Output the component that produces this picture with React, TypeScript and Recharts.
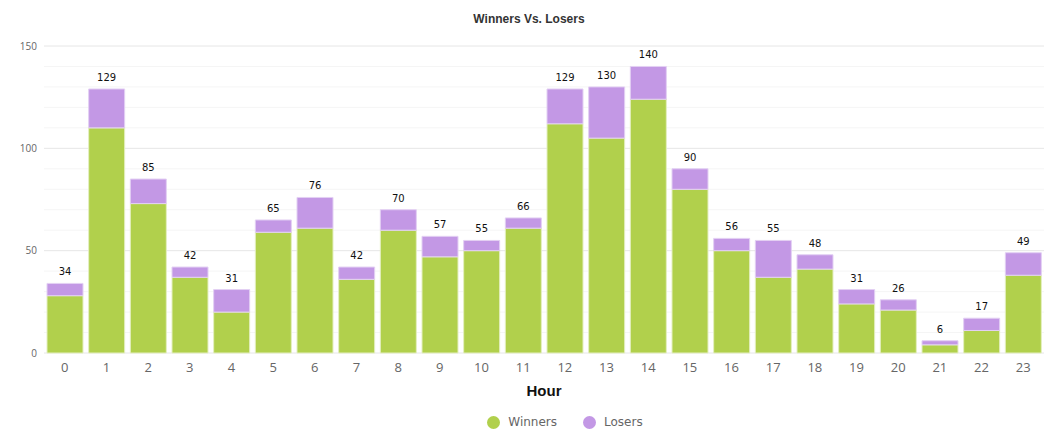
import React from "react"
import { BarChart, Bar, XAxis, YAxis, CartesianGrid, Legend, LabelList } from "recharts"

const hours = ["0", "1", "2", "3", "4", "5", "6", "7", "8", "9", "10", "11", "12", "13", "14", "15", "16", "17", "18", "19", "20", "21", "22", "23"]
const winners = [28, 110, 73, 37, 20, 59, 61, 36, 60, 47, 50, 61, 112, 105, 124, 80, 50, 37, 41, 24, 21, 4, 11, 38]
const losers = [6, 19, 12, 5, 11, 6, 15, 6, 10, 10, 5, 5, 17, 25, 16, 10, 6, 18, 7, 7, 5, 2, 6, 11]
const majorTicks = [0, 50, 100, 150]
const minorTicks = [10, 20, 30, 40, 60, 70, 80, 90, 110, 120, 130, 140]
const yMax = 150

const data = hours.map((h, i) => ({
  hour: h,
  winners: winners[i],
  losers: losers[i],
  total: winners[i] + losers[i],
}))

const renderLegend = () => (
  <div style={{ display: "flex", justifyContent: "center", gap: 26, paddingLeft: 86, fontFamily: "DejaVu Sans, Verdana, sans-serif", fontSize: 12, color: "#666" }}>
    {[
      { name: "Winners", color: "#b1d04c" },
      { name: "Losers", color: "#c398e5" },
    ].map((it) => (
      <div key={it.name} style={{ display: "flex", alignItems: "center", gap: 8 }}>
        <span style={{ width: 13, height: 13, borderRadius: "50%", background: it.color, display: "inline-block" }} />
        <span>{it.name}</span>
      </div>
    ))}
  </div>
)

// minor grid lines every 10, placed through the y scale when available
const minorLines = ({ yAxis, offset }: any) =>
  minorTicks.map((t) =>
    yAxis && typeof yAxis.scale === "function"
      ? yAxis.scale(t)
      : offset.top + offset.height * (1 - t / yMax)
  )

export default function App() {
  return (
    <div style={{ position: "absolute", left: 0, top: 0, width: 1050, height: 448, background: "#fff" }}>
      <div
        style={{
          position: "absolute",
          top: 12,
          left: 0,
          width: 1050,
          textAlign: "center",
          fontFamily: "Liberation Sans, Arial, sans-serif",
          fontWeight: "bold",
          fontSize: 12,
          color: "#333",
          paddingLeft: 4,
        }}
      >
        Winners Vs. Losers
      </div>
      <BarChart width={1050} height={448} data={data} margin={{ top: 46, right: 6, left: 0, bottom: 20 }}>
        <CartesianGrid vertical={false} stroke="#f5f5f5" horizontalCoordinatesGenerator={minorLines} />
        <CartesianGrid vertical={false} stroke="#e6e6e6" />
        <XAxis
          dataKey="hour"
          height={45}
          tickLine={false}
          axisLine={false}
          tickSize={0}
          tickMargin={10}
          tick={{ fill: "#666", fontSize: 13, fontFamily: "Open Sans, sans-serif" }}
          label={{ value: "Hour", position: "insideBottom", offset: 2, fill: "#111", fontSize: 15, fontWeight: "bold", fontFamily: "Liberation Sans, Arial, sans-serif" }}
        />
        <YAxis
          width={44}
          domain={[0, yMax]}
          ticks={majorTicks}
          tickLine={false}
          axisLine={false}
          tickSize={0}
          tickMargin={7}
          tick={{ fill: "#666", fontSize: 10, fontFamily: "Open Sans, sans-serif" }}
        />
        <Legend verticalAlign="bottom" height={30} content={renderLegend} wrapperStyle={{ bottom: 3 }} />
        <Bar dataKey="winners" name="Winners" stackId="a" fill="#b1d04c" stroke="#e4efc0" strokeWidth={1} barSize={36} isAnimationActive={false} />
        <Bar dataKey="losers" name="Losers" stackId="a" fill="#c398e5" stroke="#e3d0f3" strokeWidth={1} barSize={36} isAnimationActive={false}>
          <LabelList dataKey="total" position="top" offset={8} fill="#111" fontSize={10} fontFamily="DejaVu Sans, Verdana, sans-serif" />
        </Bar>
      </BarChart>
    </div>
  )
}
